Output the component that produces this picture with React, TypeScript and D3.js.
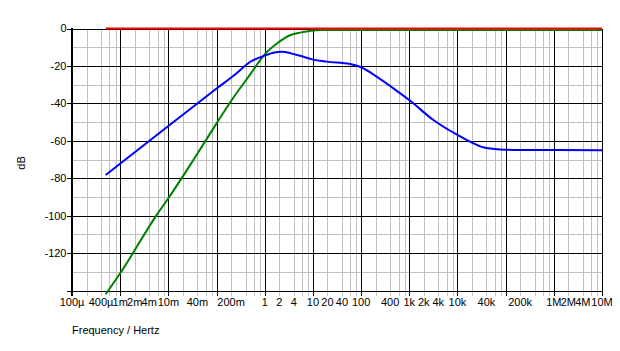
import React from "react";
import * as d3 from "d3";

// ---- data ----
const blueFreq = [0.0005, 0.01, 0.1, 0.25, 0.494, 1, 1.5, 2.3, 3.5, 5.4, 9.7, 19.3, 59, 100, 211, 468, 1030, 3160, 10000, 18200, 34000, 76000, 200000, 1e7];
const blueDb = [-78.3, -52.1, -32.1, -24.3, -17.9, -14.5, -13, -12.4, -13.3, -14.6, -16.5, -17.7, -19, -20.7, -25.7, -32, -38.5, -48.9, -56.9, -60.5, -63.5, -64.6, -64.9, -65];

const greenFreq = [0.0005, 0.001, 0.0057, 0.01, 0.033, 0.1, 0.207, 0.5, 1, 1.82, 3.45, 5.4, 8.6, 13.9, 30, 1e7];
const greenDb = [-142, -130.8, -99.7, -90.7, -70.3, -50.7, -38.2, -24.5, -13.8, -7.9, -3.5, -2.2, -1.3, -0.8, -0.8, -0.8];

const redFreq = [0.0005, 1e7];
const redDb = [0, 0];

const xTickValues = [1e-4, 4e-4, 1e-3, 2e-3, 4e-3, 1e-2, 4e-2, 2e-1, 1, 2, 4, 10, 20, 40, 100, 400, 1e3, 2e3, 4e3, 1e4, 4e4, 2e5, 1e6, 2e6, 4e6, 1e7];
const xTickLabels = ["100µ", "400µ", "1m", "2m", "4m", "10m", "40m", "200m", "1", "2", "4", "10", "20", "40", "100", "400", "1k", "2k", "4k", "10k", "40k", "200k", "1M", "2M", "4M", "10M"];
const yTickValues = [0, -20, -40, -60, -80, -100, -120];
const yTickLabels = ["0", "-20", "-40", "-60", "-80", "-100", "-120"];

const W = 620;
const H = 351;
const L = 72, R = 602, T = 28.5, B = 290.5;

export default function App() {
  const x = d3.scaleLog().domain([1e-4, 1e7]).range([L, R]);
  const y = d3.scaleLinear().domain([-140, 0]).range([B, T]);

  const minorX: number[] = [];
  const majorX: number[] = [];
  for (let e = -4; e <= 7; e++) {
    majorX.push(Math.pow(10, e));
    if (e < 7) for (const m of [2, 4, 6, 8]) minorX.push(m * Math.pow(10, e));
  }
  const minorY = d3.range(-130, 0, 20);
  const majorY = d3.range(-120, 1, 20);

  const line = d3
    .line<[number, number]>()
    .x((d) => x(d[0]))
    .y((d) => y(d[1]))
    .curve(d3.curveMonotoneX);

  const mk = (f: number[], v: number[]) => line(f.map((ff, i) => [ff, v[i]] as [number, number])) || "";

  const font = "'Liberation Sans', Arial, sans-serif";
  const px = (v: number) => Math.round(v) + 0.5;

  return (
    <svg width={W} height={H} style={{ position: "absolute", left: 0, top: 0, background: "#fff" }} fontFamily={font}>
      <rect x={0} y={0} width={W} height={H} fill="#ffffff" />
      <g shapeRendering="crispEdges">
        {minorX.map((f, i) => (
          <line key={"mx" + i} x1={px(x(f))} x2={px(x(f))} y1={T} y2={B + 5} stroke="#c0c0c0" strokeWidth={1} />
        ))}
        {minorY.map((v, i) => (
          <line key={"my" + i} x1={L} x2={R} y1={px(y(v))} y2={px(y(v))} stroke="#c0c0c0" strokeWidth={1} />
        ))}
        {majorY.map((v, i) => (
          <line key={"My" + i} x1={L - 5} x2={R} y1={px(y(v))} y2={px(y(v))} stroke="#000" strokeWidth={1} />
        ))}
        {majorX.map((f, i) => (
          <line key={"Mx" + i} x1={px(x(f))} x2={px(x(f))} y1={T} y2={B + 5} stroke="#000" strokeWidth={1} />
        ))}
        <line x1={L - 5} x2={R} y1={px(B)} y2={px(B)} stroke="#000" strokeWidth={1} />
        <line x1={L} x2={L} y1={T - 0.5} y2={B + 5} stroke="#000" strokeWidth={2} />
      </g>
      <path d={mk(greenFreq, greenDb)} fill="none" stroke="#008000" strokeWidth={2} />
      <path d={mk(blueFreq, blueDb)} fill="none" stroke="#0000ff" strokeWidth={2} />
      <path d={mk(redFreq, redDb)} fill="none" stroke="#ff0000" strokeWidth={2} />
      {yTickValues.map((v, i) => (
        <text key={"yl" + i} x={66.5} y={y(v)} dy="0.36em" textAnchor="end" fontSize={11} fill="#000">
          {yTickLabels[i]}
        </text>
      ))}
      {xTickValues.map((f, i) => (
        <text key={"xl" + i} x={x(f)} y={306} textAnchor="middle" fontSize={11} fill="#000">
          {xTickLabels[i]}
        </text>
      ))}
      <text x={72} y={334} fontSize={11} fill="#000">Frequency / Hertz</text>
      <text transform="translate(25,163) rotate(-90)" textAnchor="middle" fontSize={11} fill="#000">dB</text>
    </svg>
  );
}
